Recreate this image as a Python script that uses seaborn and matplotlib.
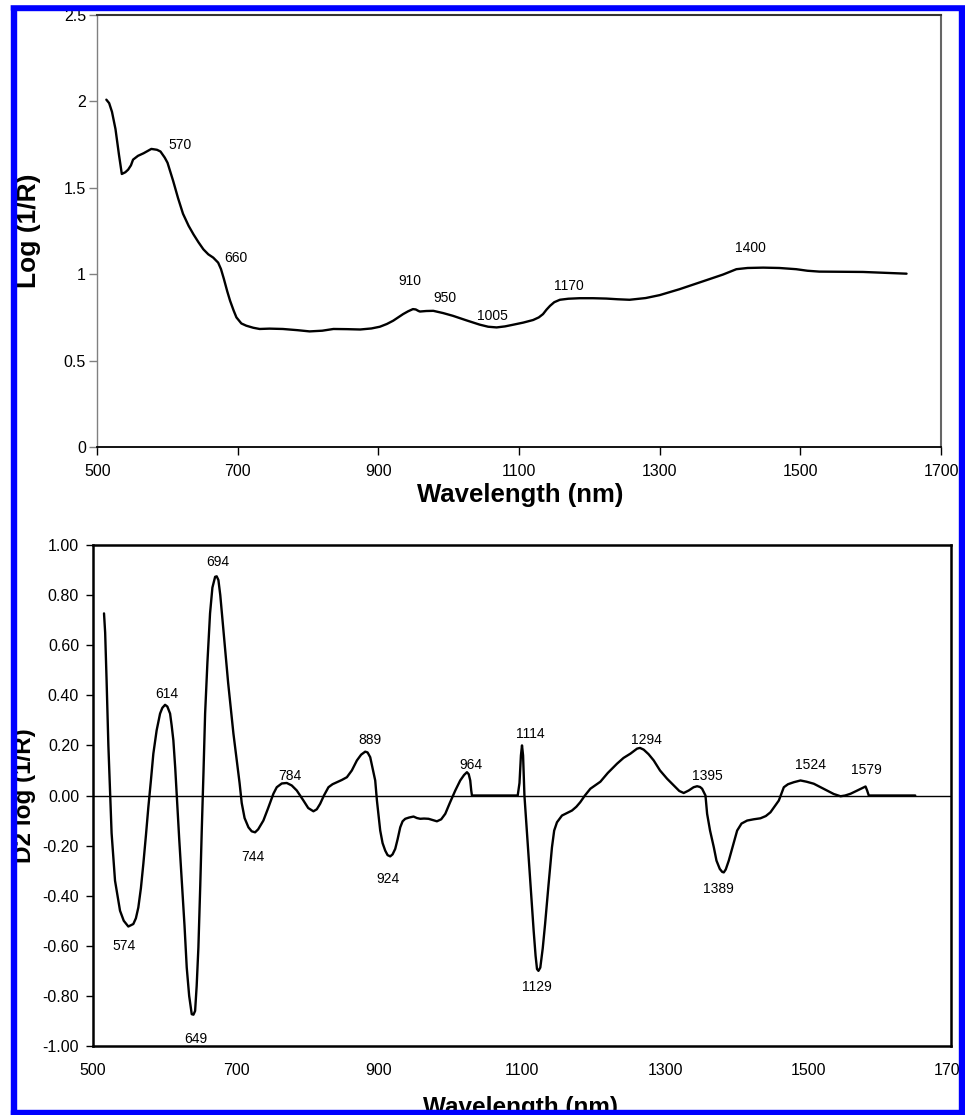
import matplotlib
matplotlib.use("Agg")
import matplotlib.pyplot as plt
from matplotlib.patches import Rectangle
import seaborn as sns
import pandas as pd

# Spectrum, log(1/R)
log_nm = [513, 517, 521, 526, 531, 535, 540, 544, 548, 551, 558, 566, 577, 585, 590,
          596, 600, 608, 615, 622, 630, 637, 644, 651, 658, 665, 672, 676, 680, 685,
          689, 694, 698, 705, 712, 722, 731, 745, 764, 785, 802, 820, 836, 855, 874,
          890, 902, 912, 921, 935, 942, 949, 953, 957, 959, 968, 978, 992, 1006, 1025,
          1044, 1056, 1068, 1080, 1092, 1106, 1120, 1128, 1134, 1139, 1144, 1150, 1158,
          1170, 1186, 1205, 1224, 1240, 1257, 1280, 1300, 1328, 1366, 1390, 1409, 1425,
          1447, 1470, 1494, 1510, 1527, 1560, 1589, 1620, 1651]
log_val = [2.01, 1.99, 1.94, 1.84, 1.69, 1.58, 1.59, 1.605, 1.63, 1.663, 1.685, 1.70,
           1.725, 1.72, 1.71, 1.675, 1.645, 1.54, 1.44, 1.35, 1.28, 1.23, 1.185, 1.144,
           1.115, 1.096, 1.067, 1.03, 0.975, 0.90, 0.846, 0.79, 0.75, 0.715, 0.702, 0.69,
           0.683, 0.685, 0.683, 0.676, 0.669, 0.673, 0.683, 0.682, 0.68, 0.686, 0.696,
           0.712, 0.731, 0.769, 0.785, 0.798, 0.796, 0.787, 0.784, 0.787, 0.788, 0.775,
           0.759, 0.733, 0.708, 0.696, 0.692, 0.698, 0.708, 0.72, 0.735, 0.75, 0.769,
           0.795, 0.817, 0.838, 0.852, 0.858, 0.861, 0.861, 0.859, 0.855, 0.852, 0.862,
           0.879, 0.913, 0.965, 0.998, 1.029, 1.036, 1.038, 1.036, 1.029, 1.02, 1.015,
           1.014, 1.013, 1.008, 1.003]

log_peaks = ["570", "660", "910", "950", "1005", "1170", "1400"]
log_peak_x = [618, 697, 945, 994, 1062, 1171, 1429]
log_peak_y = [1.75, 1.096, 0.961, 0.865, 0.76, 0.933, 1.153]

# Second derivative spectrum
d2_nm = [515.4, 517, 519, 521.5, 524, 526, 530.8, 537.8, 543, 549.4, 556.4, 560, 563.4,
         567, 570.4, 574, 577.4, 581, 584.4, 589, 593.8, 597, 600.8, 604, 607.8, 610,
         612.4, 615, 617.1, 620.5, 624.1, 628, 631.1, 634.5, 638.1, 640.5, 642.8, 645,
         647.4, 650, 652.1, 654.5, 656.8, 660, 663.7, 667, 670.8, 673, 675.4, 678,
         682.4, 689, 696.4, 701, 705, 708, 712, 717.4, 722, 726.7, 731, 738.3, 745,
         752.3, 757, 764, 771, 778, 785, 794.3, 801, 808.3, 813, 817.7, 823, 829.3,
         835, 841, 848, 855.1, 862, 869.1, 875, 880.7, 884, 887.7, 891, 894.7, 897.1,
         901.7, 905, 908.7, 912, 915.7, 919, 922.7, 926, 929.7, 933, 936.7, 942, 948.3,
         953, 957.7, 963, 969.3, 975, 981, 987, 992.7, 999, 1006.7, 1013.6, 1019, 1023,
         1025.5, 1027.6, 1029, 1030, 1060, 1094, 1096.5, 1098.5, 1100, 1101.5, 1103.4,
         1107, 1111.6, 1116.3, 1119, 1121, 1123, 1125.6, 1129, 1132.3, 1137, 1141.9,
         1145, 1148.9, 1155.9, 1163, 1169.9, 1176, 1181.4, 1188, 1195.6, 1209.6, 1220,
         1232.9, 1242, 1251.6, 1260.9, 1265, 1270.2, 1277, 1284.2, 1293, 1302.9, 1314,
         1320, 1326.2, 1333.2, 1340, 1344.9, 1349, 1351.9, 1356.6, 1358.9, 1363, 1368.3,
         1372, 1376.6, 1380, 1382.2, 1385, 1389.2, 1395, 1400.9, 1407, 1414.9, 1424,
         1433.5, 1441, 1447.5, 1453, 1459.2, 1466.2, 1472, 1480.1, 1489.5, 1498, 1508.1,
         1517, 1526.8, 1536, 1545.5, 1552, 1559.5, 1569, 1578.1, 1580.5, 1582.7, 1585,
         1650]
d2_val = [0.727, 0.65, 0.46, 0.2, 0.0, -0.15, -0.34, -0.46, -0.50, -0.523, -0.513, -0.49,
          -0.447, -0.37, -0.273, -0.16, -0.047, 0.06, 0.167, 0.26, 0.327, 0.35, 0.362,
          0.355, 0.327, 0.28, 0.22, 0.11, 0.0, -0.17, -0.34, -0.52, -0.687, -0.80, -0.873,
          -0.875, -0.86, -0.76, -0.607, -0.36, -0.14, 0.09, 0.327, 0.53, 0.727, 0.83,
          0.873, 0.875, 0.86, 0.80, 0.66, 0.45, 0.247, 0.14, 0.05, -0.03, -0.09, -0.127,
          -0.143, -0.147, -0.135, -0.10, -0.05, 0.007, 0.033, 0.048, 0.05, 0.04, 0.02,
          -0.02, -0.05, -0.063, -0.055, -0.033, 0.0, 0.033, 0.045, 0.053, 0.062, 0.073,
          0.10, 0.14, 0.163, 0.175, 0.172, 0.153, 0.11, 0.06, -0.02, -0.14, -0.19, -0.22,
          -0.238, -0.243, -0.235, -0.213, -0.175, -0.127, -0.103, -0.093, -0.088, -0.084,
          -0.09, -0.093, -0.092, -0.093, -0.098, -0.103, -0.095, -0.073, -0.03, 0.02,
          0.06, 0.082, 0.093, 0.085, 0.06, 0.02, 0.0, 0.0, 0.0, 0.05, 0.16, 0.20, 0.16,
          0.0, -0.15, -0.34, -0.54, -0.64, -0.693, -0.70, -0.687, -0.61, -0.513, -0.36,
          -0.207, -0.14, -0.107, -0.08, -0.07, -0.06, -0.045, -0.027, 0.0, 0.027, 0.055,
          0.09, 0.127, 0.15, 0.167, 0.187, 0.19, 0.183, 0.165, 0.14, 0.10, 0.067, 0.035,
          0.018, 0.01, 0.02, 0.033, 0.037, 0.034, 0.027, 0.0, -0.073, -0.14, -0.207,
          -0.26, -0.293, -0.305, -0.307, -0.295, -0.26, -0.2, -0.14, -0.112, -0.10,
          -0.095, -0.091, -0.082, -0.067, -0.045, -0.02, 0.033, 0.045, 0.053, 0.06,
          0.055, 0.047, 0.034, 0.02, 0.006, -0.003, 0.0, 0.007, 0.02, 0.033, 0.036,
          0.02, 0.0, 0.0]

d2_peaks = ["614", "694", "784", "889", "964", "1114", "1294", "1395", "1524", "1579",
            "574", "649", "744", "924", "1129", "1389"]
d2_peak_x = [603, 675, 776, 887, 1028, 1111, 1274, 1359, 1504, 1582,
             544, 644, 724, 913, 1121, 1375]
d2_peak_y = [0.407, 0.933, 0.077, 0.223, 0.123, 0.247, 0.22, 0.077, 0.12, 0.10,
             -0.60, -0.971, -0.244, -0.333, -0.763, -0.373]

x_ticks = [500, 700, 900, 1100, 1300, 1500, 1700]
log_ticks = [0, 0.5, 1, 1.5, 2, 2.5]
log_tick_labels = ["0", "0.5", "1", "1.5", "2", "2.5"]
d2_ticks = [-1.0, -0.8, -0.6, -0.4, -0.2, 0.0, 0.2, 0.4, 0.6, 0.8, 1.0]
d2_tick_labels = ["-1.00", "-0.80", "-0.60", "-0.40", "-0.20", "0.00",
                  "0.20", "0.40", "0.60", "0.80", "1.00"]

sns.set_style("white")
plt.rcParams["font.family"] = ["Liberation Sans", "DejaVu Sans"]
plt.rcParams["text.color"] = "black"
plt.rcParams["axes.labelcolor"] = "black"
plt.rcParams["xtick.color"] = "black"
plt.rcParams["ytick.color"] = "black"

df_log = pd.DataFrame({"nm": log_nm, "val": log_val})
df_d2 = pd.DataFrame({"nm": d2_nm, "val": d2_val})

fig = plt.figure(figsize=(9.65, 11.15), dpi=100)
W, H = 965, 1115


def px_axes(l, t, r, b):
    return fig.add_axes([l / W, 1 - b / H, (r - l) / W, (b - t) / H])


# ---- top panel ----
ax1 = px_axes(97.2, 15, 941, 447)
sns.lineplot(data=df_log, x="nm", y="val", ax=ax1, color="black", lw=1.7,
             estimator=None, sort=False)
ax1.set_xlim(500, 1700)
ax1.set_ylim(0, 2.5)
ax1.set_xticks(x_ticks)
ax1.set_xticklabels([str(t) for t in x_ticks], fontsize=11.5)
ax1.set_yticks(log_ticks)
ax1.set_yticklabels(log_tick_labels, fontsize=11.5)
ax1.tick_params(axis="x", direction="out", length=6, width=1, color="black", pad=6,
                bottom=True, labelcolor="black")
ax1.tick_params(axis="y", direction="out", length=6, width=1, color="#808080", pad=2,
                left=True, labelcolor="black")
ax1.spines["left"].set(color="#808080", lw=1)
ax1.spines["bottom"].set(color="black", lw=1.3)
ax1.spines["top"].set(color="#333333", lw=1.5)
ax1.spines["right"].set(color="#666666", lw=1.5)
ax1.set_xlabel("Wavelength (nm)", fontsize=18.5, fontweight="bold", va="center",
               color="black")
ax1.xaxis.set_label_coords(0.501, -0.111)
ax1.set_ylabel("Log (1/R)", fontsize=19, fontweight="bold", va="center",
               color="black")
ax1.yaxis.set_label_coords(-0.081, 0.5)
for lab, x, y in zip(log_peaks, log_peak_x, log_peak_y):
    ax1.text(x, y, lab, fontsize=10, ha="center", va="center", color="black")

# ---- bottom panel ----
ax2 = px_axes(93, 545, 951, 1046)
ax2.axhline(0, color="black", lw=1)
sns.lineplot(data=df_d2, x="nm", y="val", ax=ax2, color="black", lw=1.7,
             estimator=None, sort=False)
ax2.set_xlim(500, 1700)
ax2.set_ylim(-1, 1)
ax2.set_xticks(x_ticks)
ax2.set_xticklabels([str(t) for t in x_ticks], fontsize=11.5)
ax2.set_yticks(d2_ticks)
ax2.set_yticklabels(d2_tick_labels, fontsize=11.5)
ax2.tick_params(axis="x", length=0, pad=12, labelcolor="black")
ax2.tick_params(axis="y", direction="out", length=5, width=1, color="black", pad=5,
                left=True, labelcolor="black")
for s in ax2.spines.values():
    s.set(color="black", lw=1.8)
ax2.set_xlabel("Wavelength (nm)", fontsize=17.5, fontweight="bold", va="center",
               color="black")
ax2.xaxis.set_label_coords(0.498, -0.122)
ax2.set_ylabel("D2 log (1/R)", fontsize=17.5, fontweight="bold", va="center",
               color="black")
ax2.yaxis.set_label_coords(-0.0804, 0.5)
for lab, x, y in zip(d2_peaks, d2_peak_x, d2_peak_y):
    ax2.text(x, y, lab, fontsize=10, ha="center", va="center", color="black")

# blue frame around the figure
blue = "#0000ff"
for (l, t, r, b) in [(11, 4, 965, 10), (11, 4, 16, 1115), (959, 4, 965, 1115),
                     (11, 1110, 965, 1115)]:
    fig.add_artist(Rectangle((l / W, 1 - b / H), (r - l) / W, (b - t) / H,
                             transform=fig.transFigure, color=blue, zorder=100))
fig.add_artist(Rectangle((0, 1 - 4 / H), 1, 4 / H, transform=fig.transFigure,
                         color="white", zorder=100))

fig.savefig("out.png", dpi=100)
